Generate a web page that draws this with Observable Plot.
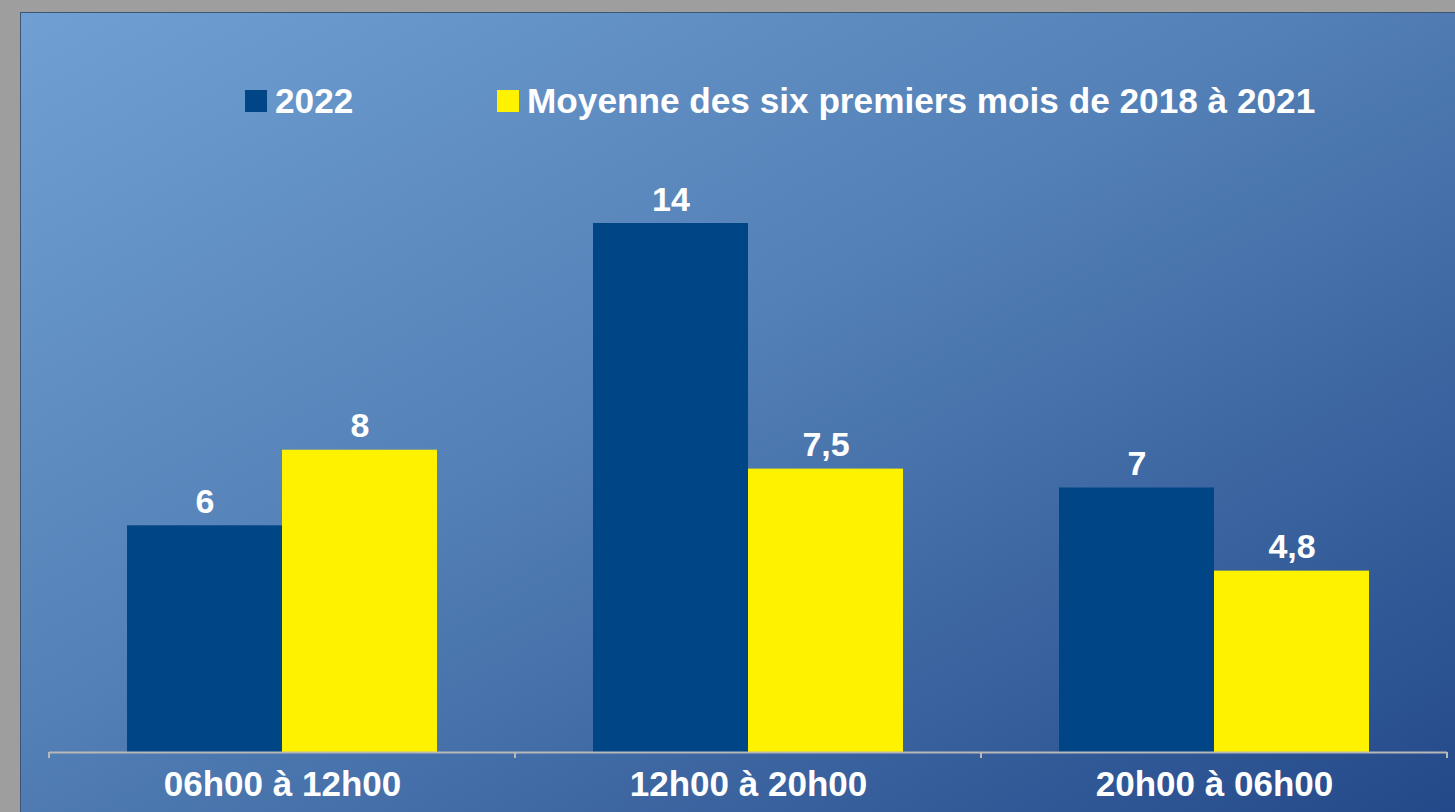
<!DOCTYPE html>
<html>
<head>
<meta charset="utf-8">
<script src="https://cdn.jsdelivr.net/npm/d3@7"></script>
<script src="https://cdn.jsdelivr.net/npm/@observablehq/plot@0.6"></script>
<style>
  html, body { margin: 0; padding: 0; width: 1455px; height: 812px; overflow: hidden; background: #9e9e9e; }
  #panel { position: absolute; left: 20px; top: 12px; width: 1435px; height: 800px;
    background: linear-gradient(to bottom right, #70a0d3 0%, #5380b6 45%, #24498a 100%);
    border-left: 1px solid #3d5575; border-top: 1px solid #3d5575; box-sizing: border-box; }
  #chart { position: absolute; left: 0; top: 0; }
  .legend { position: absolute; top: 0; left: 0; font-family: "Liberation Sans", Arial, sans-serif;
    font-weight: bold; font-size: 35.2px; color: white; }
  .item { position: absolute; display: flex; align-items: center; white-space: nowrap; top: 82px; height: 38px; }
  .sw { width: 22px; height: 22px; margin-right: 8px; }
</style>
</head>
<body>
<div id="panel"></div>
<div id="chart"></div>
<div class="legend" id="legend"></div>
<script>
const categories = ["06h00 à 12h00", "12h00 à 20h00", "20h00 à 06h00"];
const series = ["2022", "Moyenne des six premiers mois de 2018 à 2021"];
const values2022 = [6, 14, 7];
const valuesMoyenne = [8, 7.5, 4.8];
const labels2022 = ["6", "14", "7"];
const labelsMoyenne = ["8", "7,5", "4,8"];
const colors = ["#004586", "#fff200"];

const rows = [];
categories.forEach((c, i) => {
  rows.push({cat: c, series: series[0], value: values2022[i], label: labels2022[i]});
  rows.push({cat: c, series: series[1], value: valuesMoyenne[i], label: labelsMoyenne[i]});
});

const chart = Plot.plot({
  width: 1455,
  height: 812,
  marginTop: 223,
  marginBottom: 60,
  marginLeft: 48,
  marginRight: 7,
  style: {background: "transparent", fontFamily: "'Liberation Sans', Arial, sans-serif", fontSize: "35px", fontWeight: "bold", color: "white", overflow: "visible"},
  fx: {domain: categories, padding: 0, label: null, tickSize: 0, tickPadding: 19},
  x: {domain: series, paddingInner: 0, paddingOuter: 0.5, axis: null},
  y: {domain: [0, 14], axis: null},
  color: {domain: series, range: colors},
  marks: [
    Plot.barY(rows, {fx: "cat", x: "series", y: "value", fill: "series", insetLeft: 0, insetRight: 0}),
    Plot.text(rows, {fx: "cat", x: "series", y: "value", text: "label", lineAnchor: "bottom", dy: -13,
      fill: "white", fontSize: 34, fontWeight: "bold"}),
    Plot.ruleY([0], {stroke: "#b8b8b8", strokeWidth: 2})
  ]
});
document.getElementById("chart").appendChild(chart);

// tick marks at category band edges, from the fx scale
const fx = chart.scale("fx");
const y = chart.scale("y");
const edges = categories.map(c => fx.apply(c));
edges.push(fx.apply(categories[categories.length - 1]) + fx.bandwidth);
const y0 = y.apply(0);
d3.select(chart).append("g")
  .selectAll("line").data(edges).join("line")
  .attr("x1", d => d).attr("x2", d => d)
  .attr("y1", y0).attr("y2", y0 + 6)
  .attr("stroke", "#b8b8b8").attr("stroke-width", 2);

// legend
const legendLeft = [245, 497];
const lg = document.getElementById("legend");
series.forEach((s, i) => {
  const it = document.createElement("div");
  it.className = "item";
  it.style.left = legendLeft[i] + "px";
  const sw = document.createElement("span");
  sw.className = "sw";
  sw.style.background = colors[i];
  const t = document.createElement("span");
  t.textContent = s;
  it.appendChild(sw); it.appendChild(t);
  lg.appendChild(it);
});
</script>
</body>
</html>
